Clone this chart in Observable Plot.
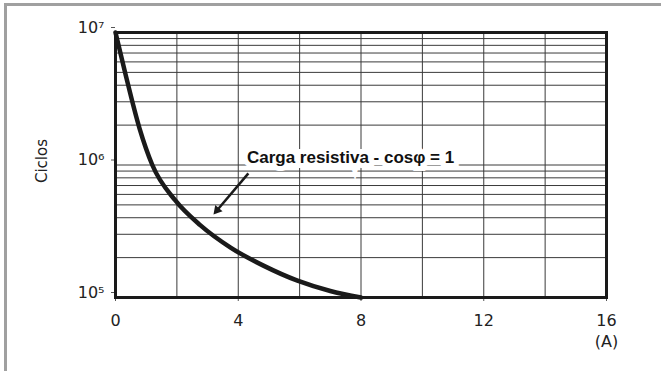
<!DOCTYPE html>
<html><head><meta charset="utf-8">
<script src="https://cdn.jsdelivr.net/npm/d3@7"></script>
<script src="https://cdn.jsdelivr.net/npm/@observablehq/plot@0.6"></script>
<style>
body{margin:0;background:#fff;}
#wrap{position:relative;width:661px;height:371px;overflow:hidden;}
#frame{position:absolute;left:4px;top:3px;width:800px;height:500px;border-left:3px solid #a0a0a0;border-top:3px solid #a0a0a0;pointer-events:none;}
</style></head><body><div id="wrap"><div id="frame"></div></div>
<script>
// Data
const current = [0, 0.33, 0.78, 1.2, 1.95, 2.77, 3.75, 4.82, 5.93, 7.0, 8.0];
const cycles  = [1e7, 4.8e6, 1.9e6, 1.0e6, 5.4e5, 3.5e5, 2.38e5, 1.74e5, 1.34e5, 1.12e5, 1e5];

const xGrid = [0, 2, 4, 6, 8, 10, 12, 14, 16];
const xTicks = [0, 4, 8, 12, 16];
const xUnit = "(A)";
const yTicks = [1e5, 1e6, 1e7];
const yTickLabels = ["10⁵", "10⁶", "10⁷"];
const yGrid = [];
for (const dec of [1e5, 1e6]) for (let m = 1; m <= 9; m++) yGrid.push(m * dec);
yGrid.push(1e7);
const yLabel = "Ciclos";

const annotationText = "Carga resistiva - cosφ = 1";
const annotationAt = [7.66, 1.14e6];
const arrowFrom = [4.33, 8.65e5];
const arrowHead = [3.31, 4.56e5];

const data = current.map((x, i) => ({x, y: cycles[i]}));
const tickFont = "'DejaVu Sans', sans-serif";

const plot = Plot.plot({
  width: 661, height: 371,
  marginLeft: 115, marginRight: 55, marginTop: 32, marginBottom: 74,
  x: {domain: [0, 16]},
  y: {type: "log", domain: [1e5, 1e7]},
  style: {fontFamily: "'Liberation Sans', 'DejaVu Sans', sans-serif", background: "transparent", color: "#222"},
  marks: [
    Plot.ruleX(xGrid, {stroke: "#3a3a3a", strokeWidth: 1}),
    Plot.ruleY(yGrid, {stroke: "#3a3a3a", strokeWidth: 1}),
    Plot.axisX({ticks: xTicks, tickSize: 4, tickPadding: 10, fontSize: 16, lineHeight: 1.3, fontFamily: tickFont,
      tickFormat: d => d === 16 ? "16\n" + xUnit : String(d), label: null, stroke: "#555"}),
    Plot.axisY({ticks: yTicks, tickSize: 4, tickPadding: 7, fontSize: 16, dy: -5, fontFamily: tickFont,
      tickFormat: d => yTickLabels[yTicks.indexOf(d)], label: null, stroke: "#555"}),
    Plot.text([yLabel], {frameAnchor: "left", textAnchor: "middle", dx: -73, dy: -4, rotate: -90, fontSize: 15, fontFamily: tickFont, fill: "#222"}),
    Plot.frame({stroke: "#1a1a1a", strokeWidth: 3}),
    Plot.line(data, {x: "x", y: "y", stroke: "#1a1a1a", strokeWidth: 4.5, curve: "monotone-x"}),
    Plot.link([0], {x1: () => arrowFrom[0], y1: () => arrowFrom[1], x2: () => arrowHead[0], y2: () => arrowHead[1], stroke: "#1a1a1a", strokeWidth: 2.5}),
    Plot.dot([0], {x: () => arrowHead[0], y: () => arrowHead[1], symbol: "triangle2", r: 4.6, fill: "#1a1a1a", rotate: 220.6}),
    Plot.text([annotationText], {x: () => annotationAt[0], y: () => annotationAt[1], text: d => d,
      fontSize: 17, fontWeight: "bold", fill: "#111", stroke: "white", strokeWidth: 10, strokeLinejoin: "miter"})
  ]
});
document.getElementById("wrap").prepend(plot);
</script></body></html>
